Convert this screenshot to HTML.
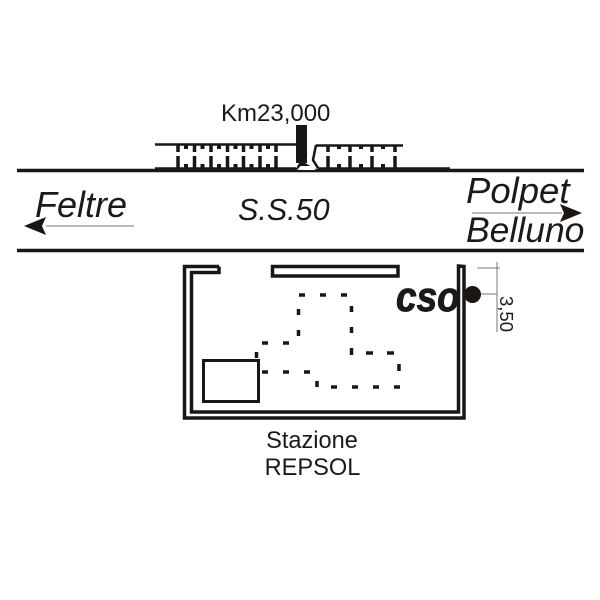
<!DOCTYPE html>
<html><head><meta charset="utf-8"><style>html,body{margin:0;padding:0;background:#fff}svg{display:block}text{font-family:"Liberation Sans",sans-serif;fill:#1a1a1a}</style></head><body>
<svg width="600" height="600" viewBox="0 0 600 600" xmlns="http://www.w3.org/2000/svg">
<g fill="none" stroke="#1a1614">
<path d="M17 170.500H584M17 250.500H584" stroke-width="3.500"/>
<path d="M155 144.500H297M316 145.500H403" stroke-width="2.500"/>
<path d="M155 168.500H296M318 168.500H450" stroke-width="2.500"/>
<path d="M316 145L313 160L318 168" stroke-width="2.500"/>
<path d="M178 145V152M194.500 145V152M211 145V152M227.500 145V152M243.500 145V152M260 145V152M276 145V152M178 156V168M194.500 156V168M211 156V168M227.500 156V168M243.500 156V168M260 156V168M276 156V168M328 146V152M350 146V152M372 146V152M395 146V152M328 156V168M350 156V168M372 156V168M395 156V168" stroke-width="3.500"/>
<path d="M186 145V149M202.500 145V149M219 145V149M235.500 145V149M251.500 145V149M268 145V149M186 164V168M202.500 164V168M219 164V168M235.500 164V168M251.500 164V168M268 164V168M339 146V149M361 146V149M383 146V149M339 164V168M361 164V168M383 164V168" stroke-width="4"/>
<path d="M219 266.500H184.500V418H464V266.500L458.500 266V412H191.500V272.500H219V266.500" stroke-width="3.500"/>
<path d="M272.500 266.500H398V276H272.500Z" stroke-width="3.500"/>
<rect x="203.500" y="360.500" width="55" height="41" stroke-width="3"/>
<path d="M299 295H305M320 295H326M341 295H347M298.500 309V315M298.500 330V336M262 343H268M283 343H289M256.500 352V358M262 372H268M283 372H289M304 372H310M317 381V387M331 387H337M352 387H358M373 387H379M394 387H400M399 364V371M366 353H373M387 353H394M351.500 306V312M351.500 327V333M351.500 348V355" stroke-width="3.500"/>
<path d="M477 268H500M497 262V332M465 294H497M46 226H134M472 213H562" stroke="#777" stroke-width="1"/>
</g>
<rect x="296" y="125" width="11" height="38" fill="#1a1614"/>
<path d="M299 163H305L318 170.500H295Z" fill="#1a1614"/>
<path d="M297 170L300.500 166H312L316 170Z" fill="#fff"/>
<circle cx="472.500" cy="294.500" r="8.500" fill="#1a1614"/>
<path d="M24 226L46 217L42 226L46 235Z" fill="#1a1614"/>
<path d="M582 213L560 204L564 213L560 222Z" fill="#1a1614"/>
<text x="221" y="121" font-size="24">Km23,000</text>
<text x="238" y="220" font-size="30.500" font-style="italic" fill="#333">S.S.50</text>
<text x="35" y="217" font-size="36" font-style="italic">Feltre</text>
<text x="466" y="203" font-size="36.500" font-style="italic">Polpet</text>
<text x="466" y="242" font-size="35.500" font-style="italic">Belluno</text>
<text transform="translate(396,311) scale(1,1.12)" font-size="37" font-weight="bold" font-style="italic" stroke="#1a1a1a" stroke-width="0.800">cso</text>
<text x="312" y="448" font-size="23.600" text-anchor="middle">Stazione</text>
<text x="312.500" y="475" font-size="23.600" text-anchor="middle">REPSOL</text>
<text transform="translate(500,296) rotate(90)" font-size="18.500" fill="#444">3,50</text>
</svg>
</body></html>
